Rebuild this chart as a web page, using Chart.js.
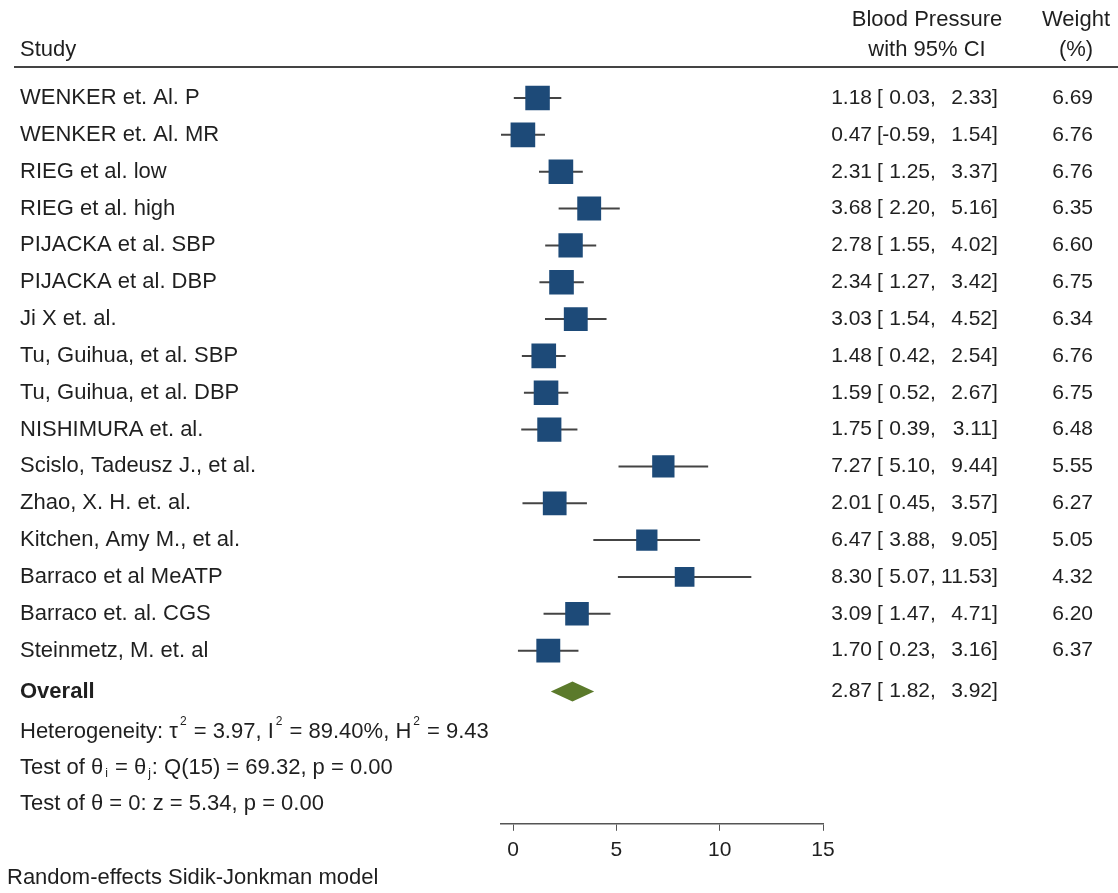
<!DOCTYPE html>
<html>
<head>
<meta charset="utf-8">
<script src="https://cdn.jsdelivr.net/npm/chart.js@4"></script>
<style>
  html, body { margin: 0; padding: 0; background: #fff; }
  canvas { display: block; }
</style>
</head>
<body>
<canvas id="forest" width="1118" height="893"></canvas>
<script>
// study data
const studies = [
  "WENKER et. Al. P", "WENKER et. Al. MR", "RIEG et al. low", "RIEG et al. high",
  "PIJACKA et al. SBP", "PIJACKA et al. DBP", "Ji X et. al.", "Tu, Guihua, et al. SBP",
  "Tu, Guihua, et al. DBP", "NISHIMURA et. al.", "Scislo, Tadeusz J., et al.",
  "Zhao, X. H. et. al.", "Kitchen, Amy M., et al.", "Barraco et al MeATP",
  "Barraco et. al. CGS", "Steinmetz, M. et. al"
];
const estimates = [1.18, 0.47, 2.31, 3.68, 2.78, 2.34, 3.03, 1.48, 1.59, 1.75, 7.27, 2.01, 6.47, 8.30, 3.09, 1.70];
const lowerCI   = [0.03, -0.59, 1.25, 2.20, 1.55, 1.27, 1.54, 0.42, 0.52, 0.39, 5.10, 0.45, 3.88, 5.07, 1.47, 0.23];
const upperCI   = [2.33, 1.54, 3.37, 5.16, 4.02, 3.42, 4.52, 2.54, 2.67, 3.11, 9.44, 3.57, 9.05, 11.53, 4.71, 3.16];
const weights   = [6.69, 6.76, 6.76, 6.35, 6.60, 6.75, 6.34, 6.76, 6.75, 6.48, 5.55, 6.27, 5.05, 4.32, 6.20, 6.37];

const overall = { est: 2.87, lo: 1.82, hi: 3.92 };
const xTicks = [0, 5, 10, 15];

const statLines = [
  [["Heterogeneity: \u03c4", ""], ["2", "sup"], [" = 3.97, I", ""], ["2", "sup"], [" = 89.40%, H", ""], ["2", "sup"], [" = 9.43", ""]],
  [["Test of \u03b8", ""], ["i", "sub"], [" = \u03b8", ""], ["j", "sub"], [": Q(15) = 69.32, p = 0.00", ""]],
  [["Test of \u03b8 = 0: z = 5.34, p = 0.00", ""]]
];
const footNote = "Random-effects Sidik-Jonkman model";

// =========================
// look
// =========================
const FONT = '"Liberation Sans", Arial, sans-serif';
const FONT_SIZE = 22;
const NUM_SIZE = 21;
const TEXT = "#1f1f1f";
const BOX = "#1d4a78";
const DIAMOND = "#5b7a2b";
const CI_LINE = "#444";

const OVERALL_ROW = 16.11;
const STAT_ROWS = [17.2, 18.18, 19.16];

function drawRich(ctx, parts, x, y, size) {
  let cx = x;
  parts.forEach(([txt, kind]) => {
    if (kind === "sup" || kind === "sub") {
      ctx.font = `${Math.round(size * 0.55)}px ${FONT}`;
      const dy = kind === "sup" ? -size * 0.45 : size * 0.28;
      ctx.fillText(txt, cx + 2, y + dy);
      cx += ctx.measureText(txt).width + 3;
    } else {
      ctx.font = `${size}px ${FONT}`;
      ctx.fillText(txt, cx, y);
      cx += ctx.measureText(txt).width;
    }
  });
}

const forestPlugin = {
  id: "forest",
  beforeDatasetsDraw(chart) {
    const { ctx, scales: { x, y } } = chart;
    ctx.save();
    // confidence intervals
    ctx.strokeStyle = CI_LINE;
    ctx.lineWidth = 2;
    studies.forEach((s, i) => {
      const py = y.getPixelForValue(i);
      ctx.beginPath();
      ctx.moveTo(x.getPixelForValue(lowerCI[i]), py);
      ctx.lineTo(x.getPixelForValue(upperCI[i]), py);
      ctx.stroke();
    });
    // overall diamond
    const oy = y.getPixelForValue(OVERALL_ROW);
    ctx.fillStyle = DIAMOND;
    ctx.beginPath();
    ctx.moveTo(x.getPixelForValue(overall.lo), oy);
    ctx.lineTo(x.getPixelForValue(overall.est), oy - 10);
    ctx.lineTo(x.getPixelForValue(overall.hi), oy);
    ctx.lineTo(x.getPixelForValue(overall.est), oy + 10);
    ctx.closePath();
    ctx.fill();
    ctx.restore();
  },
  afterDraw(chart) {
    const { ctx, scales: { y } } = chart;
    const size = FONT_SIZE;
    const textFont = `${size}px ${FONT}`;
    const numFont = `${NUM_SIZE}px ${FONT}`;
    ctx.save();
    ctx.fillStyle = TEXT;
    ctx.textBaseline = "middle";
    ctx.font = textFont;

    // header
    ctx.textAlign = "left";
    ctx.fillText("Study", 20, 50);
    ctx.textAlign = "center";
    ctx.fillText("Blood Pressure", 927, 20);
    ctx.fillText("with 95% CI", 927, 50);
    ctx.fillText("Weight", 1076, 20);
    ctx.fillText("(%)", 1076, 50);
    ctx.strokeStyle = "#444";
    ctx.lineWidth = 2;
    ctx.beginPath();
    ctx.moveTo(14, 67);
    ctx.lineTo(1118, 67);
    ctx.stroke();

    const drawNumbers = (est, lo, hi, py) => {
      ctx.font = numFont;
      ctx.textAlign = "right";
      ctx.fillText(est.toFixed(2), 872, py);
      ctx.fillText(lo.toFixed(2), 930, py);
      ctx.fillText(hi.toFixed(2), 992, py);
      ctx.textAlign = "left";
      ctx.fillText("[", 877, py);
      ctx.fillText(",", 930, py);
      ctx.fillText("]", 992, py);
    };

    // study rows
    studies.forEach((s, i) => {
      const py = y.getPixelForValue(i);
      ctx.font = textFont;
      ctx.textAlign = "left";
      ctx.fillText(s, 20, py);
      drawNumbers(estimates[i], lowerCI[i], upperCI[i], py);
      ctx.textAlign = "right";
      ctx.fillText(weights[i].toFixed(2), 1093, py);
    });

    // overall row
    const oy = y.getPixelForValue(OVERALL_ROW);
    ctx.textAlign = "left";
    ctx.font = `bold ${size}px ${FONT}`;
    ctx.fillText("Overall", 20, oy);
    drawNumbers(overall.est, overall.lo, overall.hi, oy);

    // heterogeneity stats
    ctx.textAlign = "left";
    statLines.forEach((parts, k) => {
      drawRich(ctx, parts, 20, y.getPixelForValue(STAT_ROWS[k]), size);
    });

    ctx.font = textFont;
    ctx.fillText(footNote, 7, 878);
    ctx.restore();
  }
};

new Chart(document.getElementById("forest"), {
  type: "scatter",
  data: {
    datasets: [{
      data: studies.map((s, i) => ({ x: estimates[i], y: i })),
      pointStyle: "rect",
      pointRadius: c => 6.7 * Math.sqrt(weights[c.dataIndex]),
      backgroundColor: BOX,
      borderWidth: 0
    }]
  },
  options: {
    responsive: false,
    animation: false,
    events: [],
    layout: { padding: { left: 501, right: 295, top: 67, bottom: 23 } },
    plugins: { legend: { display: false }, tooltip: { enabled: false } },
    scales: {
      x: {
        type: "linear",
        min: Math.min(...lowerCI),
        max: 15,
        afterBuildTicks: axis => { axis.ticks = xTicks.map(v => ({ value: v })); },
        grid: { drawOnChartArea: false, drawTicks: true, tickLength: 7, color: "#555" },
        border: { display: true, color: "#555", width: 1.5 },
        ticks: { color: TEXT, font: { size: 21, family: FONT }, padding: 7, maxRotation: 0 }
      },
      y: {
        type: "linear",
        reverse: true,
        min: -0.842,
        max: 19.70,
        display: false
      }
    }
  },
  plugins: [forestPlugin]
});
</script>
</body>
</html>
